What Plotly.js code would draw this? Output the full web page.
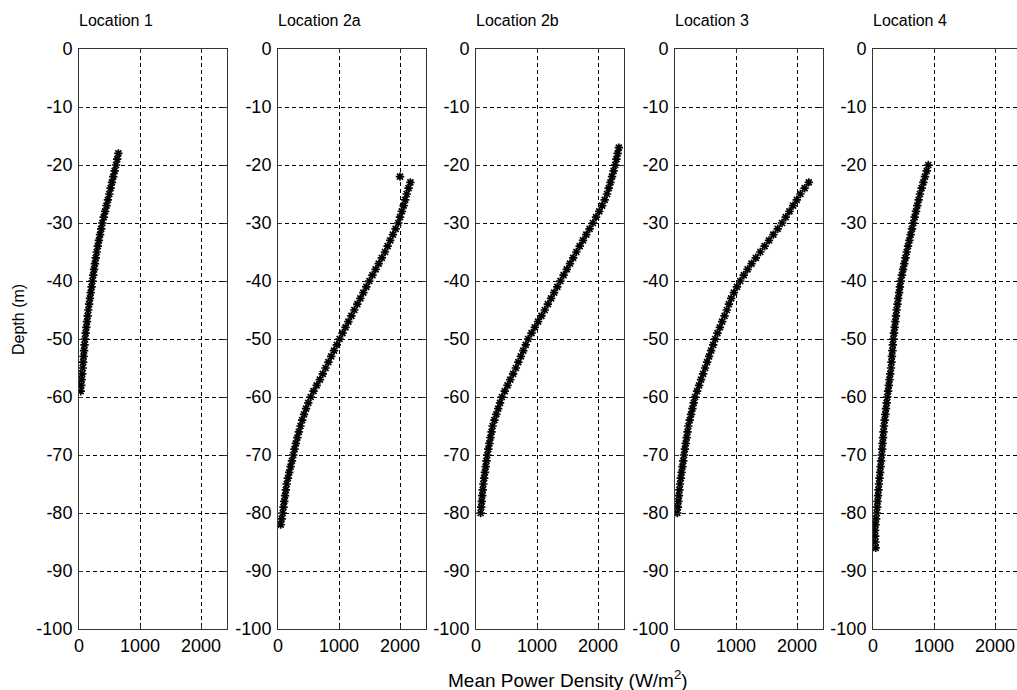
<!DOCTYPE html>
<html>
<head>
<meta charset="utf-8">
<script src="https://cdn.plot.ly/plotly-3.0.1.min.js"></script>
<style>
  html, body { margin: 0; padding: 0; background: #fff; }
  #chart { width: 1017px; height: 690px; }
</style>
</head>
<body>
<div id="chart"></div>
<script>
// Panel titles
const locations = ["Location 1", "Location 2a", "Location 2b", "Location 3", "Location 4"];

// Depth (m) of each sample, one array per location
const depthLoc1 = [-18,-19,-20,-21,-22,-23,-24,-25,-26,-27,-28,-29,-30,-31,-32,-33,-34,-35,-36,-37,-38,-39,-40,-41,-42,-43,-44,-45,-46,-47,-48,-49,-50,-51,-52,-53,-54,-55,-56,-57,-58,-59];
const depthLoc2a = [-22,-23,-24,-25,-26,-27,-28,-29,-30,-31,-32,-33,-34,-35,-36,-37,-38,-39,-40,-41,-42,-43,-44,-45,-46,-47,-48,-49,-50,-51,-52,-53,-54,-55,-56,-57,-58,-59,-60,-61,-62,-63,-64,-65,-66,-67,-68,-69,-70,-71,-72,-73,-74,-75,-76,-77,-78,-79,-80,-81,-82];
const depthLoc2b = [-17,-18,-19,-20,-21,-22,-23,-24,-25,-26,-27,-28,-29,-30,-31,-32,-33,-34,-35,-36,-37,-38,-39,-40,-41,-42,-43,-44,-45,-46,-47,-48,-49,-50,-51,-52,-53,-54,-55,-56,-57,-58,-59,-60,-61,-62,-63,-64,-65,-66,-67,-68,-69,-70,-71,-72,-73,-74,-75,-76,-77,-78,-79,-80];
const depthLoc3 = [-23,-24,-25,-26,-27,-28,-29,-30,-31,-32,-33,-34,-35,-36,-37,-38,-39,-40,-41,-42,-43,-44,-45,-46,-47,-48,-49,-50,-51,-52,-53,-54,-55,-56,-57,-58,-59,-60,-61,-62,-63,-64,-65,-66,-67,-68,-69,-70,-71,-72,-73,-74,-75,-76,-77,-78,-79,-80];
const depthLoc4 = [-20,-21,-22,-23,-24,-25,-26,-27,-28,-29,-30,-31,-32,-33,-34,-35,-36,-37,-38,-39,-40,-41,-42,-43,-44,-45,-46,-47,-48,-49,-50,-51,-52,-53,-54,-55,-56,-57,-58,-59,-60,-61,-62,-63,-64,-65,-66,-67,-68,-69,-70,-71,-72,-73,-74,-75,-76,-77,-78,-79,-80,-81,-82,-83,-84,-85,-86];

// Mean power density (W/m^2) at each depth
const powerLoc1 = [645,626,607,584,562,540,518,497,474,451,428,405,383,364,345,326,308,290,275,261,247,233,219,206,192,179,166,153,142,131,120,109,98,90,83,75,68,60,52,44,36,28];
const powerLoc2a = [2000,2170,2140,2110,2085,2060,2030,2000,1972,1928,1884,1840,1797,1754,1702,1651,1600,1548,1497,1448,1399,1350,1300,1251,1203,1154,1106,1058,1010,964,918,872,826,780,734,686,634,582,536,496,460,427,396,368,342,317,293,271,251,228,206,184,163,142,129,116,103,90,77,60,44];
const powerLoc2b = [2342,2322,2302,2282,2256,2230,2204,2176,2148,2110,2068,2020,1968,1917,1862,1808,1754,1700,1645,1593,1541,1488,1436,1384,1333,1281,1230,1178,1127,1073,1018,964,910,855,815,775,735,694,654,608,562,517,471,425,394,364,333,302,272,255,237,220,202,185,172,159,146,133,120,111,102,94,85,76];
const powerLoc3 = [2193,2125,2056,1996,1936,1876,1815,1755,1684,1612,1541,1469,1398,1325,1255,1190,1128,1069,1015,965,920,884,850,812,773,735,696,658,625,592,559,526,493,460,427,395,362,329,307,285,263,241,219,205,191,176,162,148,135,122,108,95,82,73,64,56,47,38];
const powerLoc4 = [907,880,852,825,797,770,748,726,705,683,661,639,617,596,574,552,532,513,493,474,454,441,428,414,401,388,377,366,355,344,333,325,318,310,303,295,283,271,259,247,235,224,213,202,191,180,172,165,157,150,142,133,124,116,107,98,90,83,75,68,60,51,42,33,36,40,44];

// Axis ticks
const depthTicks = [0,-10,-20,-30,-40,-50,-60,-70,-80,-90,-100];
const depthTickText = ["0","-10","-20","-30","-40","-50","-60","-70","-80","-90","-100"];
const powerTicks = [0,1000,2000];
const powerTickText = ["0","1000","2000"];

const depths = [depthLoc1, depthLoc2a, depthLoc2b, depthLoc3, depthLoc4];
const powers = [powerLoc1, powerLoc2a, powerLoc2b, powerLoc3, powerLoc4];

const W = 1017, H = 690;
const plotTop = 49, plotBottom = 629;
const panelLeft = [79, 278, 476, 675, 873];
const panelWidth = 148;
const pxPerUnit = 0.061;   // pixels per W/m^2

const family = "Liberation Sans, Arial, sans-serif";
const tickFont = {family: family, size: 18, color: "#000"};
const titleFont = {family: family, size: 16, color: "#000"};

const traces = [];
const layout = {
  width: W, height: H,
  margin: {l: 0, r: 0, t: 0, b: 0},
  paper_bgcolor: "#fff", plot_bgcolor: "#fff",
  showlegend: false,
  font: titleFont,
  annotations: [],
};

for (let i = 0; i < 5; i++) {
  const n = i === 0 ? "" : String(i + 1);
  const left = panelLeft[i];
  const right = Math.min(left + panelWidth, W);
  const xMax = (right - left) / pxPerUnit;
  traces.push({
    type: "scatter", mode: "markers",
    x: powers[i], y: depths[i],
    xaxis: "x" + n, yaxis: "y" + n,
    marker: {symbol: "asterisk-open", size: 7, color: "#000", line: {color: "#000", width: 1.7}},
    hoverinfo: "x+y",
  });
  const gridStyle = {
    showgrid: true, gridcolor: "#000", gridwidth: 1, griddash: "4px,3px",
    zeroline: false, showline: true, linecolor: "#333", linewidth: 1,
    ticks: "inside", ticklen: 4, tickcolor: "#333",
    tickfont: tickFont, fixedrange: true,
  };
  layout["xaxis" + n] = Object.assign({}, gridStyle, {
    domain: [left / W, right / W],
    range: [0, xMax],
    anchor: "y" + n,
    mirror: "ticks",
    tickmode: "array", tickvals: powerTicks, ticktext: powerTickText,
  });
  layout["yaxis" + n] = Object.assign({}, gridStyle, {
    domain: [1 - plotBottom / H, 1 - plotTop / H],
    range: [-100, 0],
    anchor: "x" + n,
    mirror: right < W ? "ticks" : false,
    tickmode: "array", tickvals: depthTicks, ticktext: depthTickText,
    ticklabelstandoff: 2,
  });
  layout.annotations.push({
    text: locations[i], xref: "paper", yref: "paper",
    x: (left - 2) / W, y: 1 - 20 / H, xanchor: "left", yanchor: "middle",
    showarrow: false, font: titleFont,
  });
}

layout.annotations.push({
  text: "Depth (m)", xref: "paper", yref: "paper",
  x: 18 / W, y: 1 - 320 / H, xanchor: "center", yanchor: "middle",
  textangle: -90, showarrow: false, font: titleFont,
});
layout.annotations.push({
  text: "Mean Power Density (W/m<sup>2</sup>)", xref: "paper", yref: "paper",
  x: 568 / W, y: 1 - 679 / H, xanchor: "center", yanchor: "middle",
  showarrow: false, font: {family: family, size: 19, color: "#000"},
});

Plotly.newPlot("chart", traces, layout, {staticPlot: true, displayModeBar: false});
</script>
</body>
</html>
